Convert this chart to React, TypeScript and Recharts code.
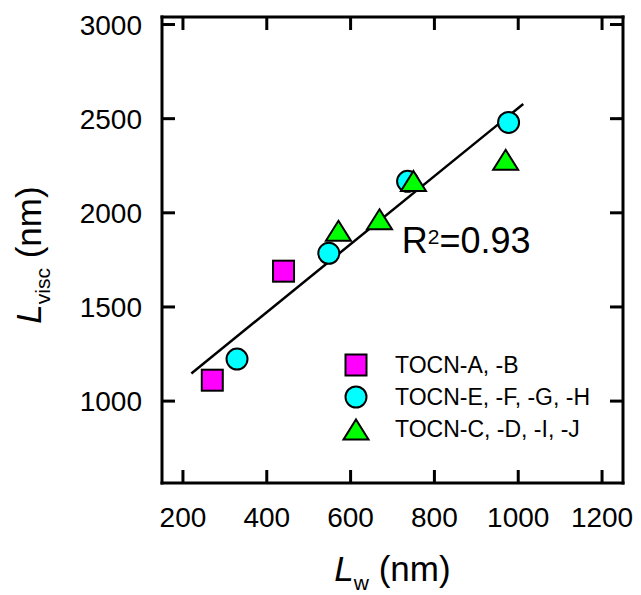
import React from 'react';
import { ScatterChart, Scatter, XAxis, YAxis, Legend, ReferenceDot } from 'recharts';

const FONT = '"Liberation Sans", Arial, Helvetica, sans-serif';

// Axis ticks
const xTicks = [200, 400, 600, 800, 1000, 1200];
const yTicks = [1000, 1500, 2000, 2500, 3000];

// Lw (nm) vs Lvisc (nm) for each sample group
const groupAB = [
  { lw: 270, lvisc: 1111 },
  { lw: 440, lvisc: 1690 },
];
const groupEFGH = [
  { lw: 329, lvisc: 1223 },
  { lw: 548, lvisc: 1785 },
  { lw: 736, lvisc: 2167 },
  { lw: 977, lvisc: 2480 },
];
const groupCDIJ = [
  { lw: 571, lvisc: 1907 },
  { lw: 669, lvisc: 1968 },
  { lw: 750, lvisc: 2172 },
  { lw: 970, lvisc: 2284 },
];

// Linear fit through all samples
const fitLine = [
  { lw: 220, lvisc: 1147 },
  { lw: 1012, lvisc: 2578 },
];
const fitR2 = '0.93';
const fitLabelAt = { lw: 722, lvisc: 1786 };

const legendNames = ['TOCN-A, -B', 'TOCN-E, -F, -G, -H', 'TOCN-C, -D, -I, -J'];

const MAGENTA = '#FF00FF';
const CYAN = '#00FFFF';
const GREEN = '#00FF00';

const TICK_LEN = 13;

const SquareMark = ({ cx, cy }: any) => (
  <rect x={cx - 10.5} y={cy - 10.5} width={21} height={21} fill={MAGENTA} stroke="#000" strokeWidth={2} />
);
const CircleMark = ({ cx, cy }: any) => (
  <circle cx={cx} cy={cy} r={10.5} fill={CYAN} stroke="#000" strokeWidth={2} />
);
const TriangleMark = ({ cx, cy }: any) => (
  <path
    d={`M${cx},${cy - 9.5} L${cx + 12.5},${cy + 10.5} L${cx - 12.5},${cy + 10.5} Z`}
    fill={GREEN}
    stroke="#000"
    strokeWidth={2}
  />
);
const NoMark = () => <g />;

const legendShapes = [SquareMark, CircleMark, TriangleMark];

// Inward-pointing ticks, labelled on the bottom and left sides only
const BottomTick = ({ x, y, payload }: any) => (
  <g>
    <line x1={x} y1={y} x2={x} y2={y - TICK_LEN} stroke="#000" strokeWidth={3} />
    <text x={x} y={y + 44} textAnchor="middle" fontSize={28} fontFamily={FONT} fill="#000">
      {payload.value}
    </text>
  </g>
);
const TopTick = ({ x, y }: any) => (
  <line x1={x} y1={y} x2={x} y2={y + TICK_LEN} stroke="#000" strokeWidth={3} />
);
const LeftTick = ({ x, y, payload }: any) => (
  <g>
    <line x1={x} y1={y} x2={x + TICK_LEN} y2={y} stroke="#000" strokeWidth={3} />
    <text x={x - 20} y={y + 10} textAnchor="end" fontSize={28} fontFamily={FONT} fill="#000">
      {payload.value}
    </text>
  </g>
);
const RightTick = ({ x, y }: any) => (
  <line x1={x} y1={y} x2={x - TICK_LEN} y2={y} stroke="#000" strokeWidth={3} />
);

const renderLegend = () => (
  <svg width={300} height={100} style={{ display: 'block', overflow: 'visible' }}>
    {legendNames.map((name, i) => {
      const cy = 20 + i * 32;
      const Shape = legendShapes[i];
      return (
        <g key={name}>
          <Shape cx={26} cy={cy} />
          <text x={65} y={cy + 8.3} fontSize={23} fontFamily={FONT} fill="#000">
            {name}
          </text>
        </g>
      );
    })}
  </svg>
);

const XTitle = ({ viewBox }: any) => {
  const cx = viewBox.x + viewBox.width / 2;
  const y = viewBox.y + 98;
  return (
    <text x={cx} y={y} textAnchor="middle" fontSize={35} fontFamily={FONT} fill="#000">
      <tspan fontStyle="italic">L</tspan>
      <tspan fontSize={21} dy={9}>w</tspan>
      <tspan dy={-9}>{' (nm)'}</tspan>
    </text>
  );
};

const YTitle = ({ viewBox }: any) => {
  const x = 41;
  const cy = viewBox.y + viewBox.height / 2 + 5;
  return (
    <text
      x={x}
      y={cy}
      textAnchor="middle"
      fontSize={35}
      fontFamily={FONT}
      fill="#000"
      transform={`rotate(-90, ${x}, ${cy})`}
    >
      <tspan fontStyle="italic">L</tspan>
      <tspan fontSize={21} dy={9}>visc</tspan>
      <tspan dy={-9}>{' (nm)'}</tspan>
    </text>
  );
};

const R2Label = ({ viewBox }: any) => (
  <text x={viewBox.x} y={viewBox.y} fontSize={36} fontFamily={FONT} fill="#000">
    <tspan>R</tspan>
    <tspan fontSize={21} dy={-9}>2</tspan>
    <tspan dy={9}>{`=${fitR2}`}</tspan>
  </text>
);

const axisStroke = { stroke: '#000', strokeWidth: 3, strokeLinecap: 'square' as const };

export default function App() {
  return (
    <div style={{ position: 'absolute', left: 0, top: 0, width: 641, height: 595, background: '#fff' }}>
      <ScatterChart width={641} height={595} margin={{ top: 16, right: 17, bottom: 0, left: 0 }}>
        <XAxis
          xAxisId="bottom"
          dataKey="lw"
          type="number"
          orientation="bottom"
          domain={[150, 1250]}
          allowDataOverflow
          ticks={xTicks}
          interval={0}
          height={112}
          tickSize={0}
          tickMargin={0}
          axisLine={axisStroke}
          tickLine={false}
          tick={<BottomTick />}
          label={{ content: XTitle }}
        />
        <XAxis
          xAxisId="top"
          dataKey="lw"
          type="number"
          orientation="top"
          domain={[150, 1250]}
          allowDataOverflow
          ticks={xTicks}
          interval={0}
          height={1}
          tickSize={0}
          tickMargin={0}
          axisLine={axisStroke}
          tickLine={false}
          tick={<TopTick />}
        />
        <YAxis
          yAxisId="left"
          dataKey="lvisc"
          type="number"
          orientation="left"
          domain={[565, 3040]}
          allowDataOverflow
          ticks={yTicks}
          interval={0}
          width={162}
          tickSize={0}
          tickMargin={0}
          axisLine={axisStroke}
          tickLine={false}
          tick={<LeftTick />}
          label={{ content: YTitle }}
        />
        <YAxis
          yAxisId="right"
          dataKey="lvisc"
          type="number"
          orientation="right"
          domain={[565, 3040]}
          allowDataOverflow
          ticks={yTicks}
          interval={0}
          width={1}
          tickSize={0}
          tickMargin={0}
          axisLine={axisStroke}
          tickLine={false}
          tick={<RightTick />}
        />
        <Scatter
          data={fitLine}
          xAxisId="top"
          yAxisId="right"
          line={{ stroke: '#000', strokeWidth: 2.5 }}
          shape={NoMark}
          legendType="none"
          isAnimationActive={false}
        />
        <Scatter
          name={legendNames[0]}
          data={groupAB}
          xAxisId="bottom"
          yAxisId="left"
          shape={SquareMark}
          isAnimationActive={false}
        />
        <Scatter
          name={legendNames[1]}
          data={groupEFGH}
          xAxisId="bottom"
          yAxisId="left"
          shape={CircleMark}
          isAnimationActive={false}
        />
        <Scatter
          name={legendNames[2]}
          data={groupCDIJ}
          xAxisId="bottom"
          yAxisId="left"
          shape={TriangleMark}
          isAnimationActive={false}
        />
        <ReferenceDot
          xAxisId="bottom"
          yAxisId="left"
          x={fitLabelAt.lw}
          y={fitLabelAt.lvisc}
          r={0}
          fill="none"
          stroke="none"
          label={{ content: R2Label }}
        />
        <Legend
          layout="horizontal"
          verticalAlign="middle"
          align="center"
          content={renderLegend}
          wrapperStyle={{ position: 'absolute', left: 330, top: 345, width: 300, height: 100 }}
        />
      </ScatterChart>
    </div>
  );
}
